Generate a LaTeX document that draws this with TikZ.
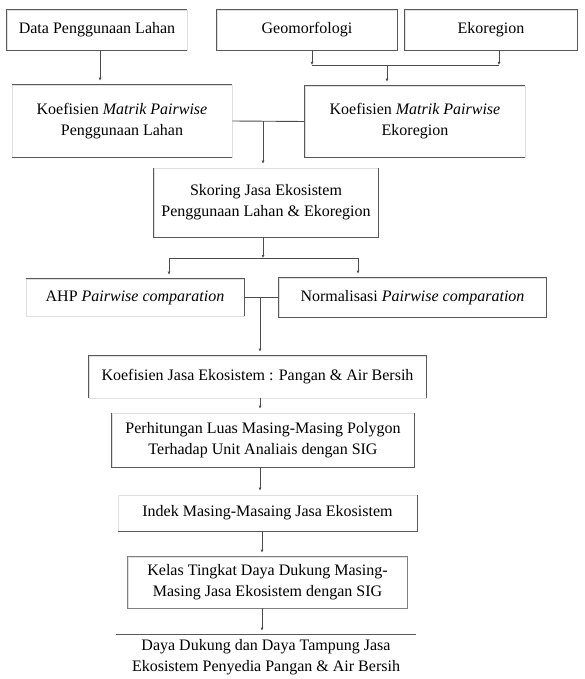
\documentclass[tikz,border=0pt]{standalone}
\usepackage{fontspec}
\setmainfont{Liberation Serif}
\usetikzlibrary{arrows.meta}
\begin{document}
\begin{tikzpicture}[x=1pt,y=-1pt,
 box/.style={draw=black!12,line width=0.6pt,inner sep=0pt,align=center,font=\fontsize{16}{21}\selectfont},
 edge/.style={draw=black!65,line width=1.2pt},
 conn/.style={draw=black!70,line width=0.9pt},
 arr/.style={conn,-{Latex[length=3pt,width=3pt]},shorten >=4pt}]
\useasboundingbox[fill=white] (0,0) rectangle (584,679);

% nodes
\node[box,minimum width=180pt,minimum height=40pt] (b1) at (97,30) {Data Penggunaan Lahan};
\node[box,minimum width=180pt,minimum height=40pt] (b2) at (307,30) {Geomorfologi};
\node[box,minimum width=172pt,minimum height=40pt] (b3) at (491,30) {Ekoregion};
\node[box,minimum width=220pt,minimum height=72pt] (b4) at (122,121) {Koefisien \textit{Matrik Pairwise}\\Penggunaan Lahan};
\node[box,minimum width=220pt,minimum height=71pt] (b5) at (415,121.5) {Koefisien \textit{Matrik Pairwise}\\Ekoregion};
\node[box,minimum width=224pt,minimum height=69pt] (b6) at (266,202.5) {Skoring Jasa Ekosistem\\Penggunaan Lahan \& Ekoregion};
\node[box,minimum width=218pt,minimum height=37pt] (b7) at (135,297.5) {AHP \textit{Pairwise comparation}};
\node[box,minimum width=267pt,minimum height=39pt] (b8) at (412.5,297.5) {Normalisasi \textit{Pairwise comparation}};
\node[box,minimum width=337pt,minimum height=42pt] (b9) at (257.5,377) {Koefisien Jasa Ekosistem : Pangan \& Air Bersih};
\node[box,minimum width=302pt,minimum height=54pt] (b10) at (263,440) {Perhitungan Luas Masing-Masing Polygon\\Terhadap Unit Analiais dengan SIG};
\node[box,minimum width=299pt,minimum height=36pt] (b11) at (267.5,513) {Indek Masing-Masaing Jasa Ekosistem};
\node[box,minimum width=279pt,minimum height=51pt] (b12) at (267.5,582.5) {Kelas Tingkat Daya Dukung Masing-\\Masing Jasa Ekosistem dengan SIG};
\node[box,draw=none,minimum width=300pt,minimum height=45pt] (b13) at (266,657.5) {Daya Dukung dan Daya Tampung Jasa\\Ekosistem Penyedia Pangan \& Air Bersih};

% visible (dark) edges
\draw[edge] (b1.north east) -- (b1.north west) -- (b1.south west) -- (b1.south east);
\draw[edge] (b2.south west) rectangle (b2.north east);
\draw[edge] (b3.south west) rectangle (b3.north east);
\draw[edge] (b4.north west) -- (b4.north east);
\draw[edge] (b4.south west) -- (b4.south east);
\draw[edge] (b5.north east) -- (b5.north west) -- (b5.south west) -- (b5.south east);
\draw[edge] (b6.north west) -- (b6.south west) -- (b6.south east) -- (b6.north east);
\draw[edge] (b7.north west) -- (b7.north east) -- (b7.south east);
\draw[edge] (b8.south west) rectangle (b8.north east);
\draw[edge] (b9.south west) -- (b9.north west) -- (b9.north east) -- (b9.south east);
\draw[edge] (b10.north west) -- (b10.south west) -- (b10.south east) -- (b10.north east);
\draw[edge] (b11.south west) -- (b11.south east) -- (b11.north east);
\draw[edge,draw=black!50] (b12.south west) rectangle (b12.north east);
\draw[edge] (b13.north west) -- (b13.north east);

% connectors
\coordinate (a1) at (100,50);
\draw[arr] (a1) -- (a1 |- b4.north);

\coordinate (j1) at (387,65);
\coordinate (g1) at (312,50);
\coordinate (e1) at (499,50);
\draw[arr,shorten >=0pt] (g1) -- (g1 |- j1);
\draw[arr,shorten >=0pt] (e1) -- (e1 |- j1);
\draw[conn] (g1 |- j1) -- (e1 |- j1);
\draw[arr] (j1) -- (j1 |- b5.north);

\draw[conn] (b4.east) -- (b5.west);
\coordinate (j2) at (263,121.5);
\draw[arr] (j2) -- (j2 |- b6.north);

\coordinate (j3) at (263,258);
\coordinate (l3) at (169,258);
\coordinate (r3) at (358,258);
\draw[arr,shorten >=0pt] (j3 |- b6.south) -- (j3);
\draw[conn] (l3) -- (r3);
\draw[arr] (l3) -- (l3 |- b7.north);
\draw[arr] (r3) -- (r3 |- b8.north);

\draw[conn] (b7.east) -- (b8.west);
\coordinate (j4) at (260,297.5);
\draw[arr] (j4) -- (j4 |- b9.north);

\coordinate (c1) at (260,0);
\coordinate (c2) at (262,0);
\draw[arr] (c1 |- b9.south) -- (c1 |- b10.north);
\draw[arr] (c1 |- b10.south) -- (c1 |- b11.north);
\draw[arr] (c2 |- b11.south) -- (c2 |- b12.north);
\draw[arr] (c2 |- b12.south) -- (c2 |- b13.north);
\end{tikzpicture}
\end{document}
